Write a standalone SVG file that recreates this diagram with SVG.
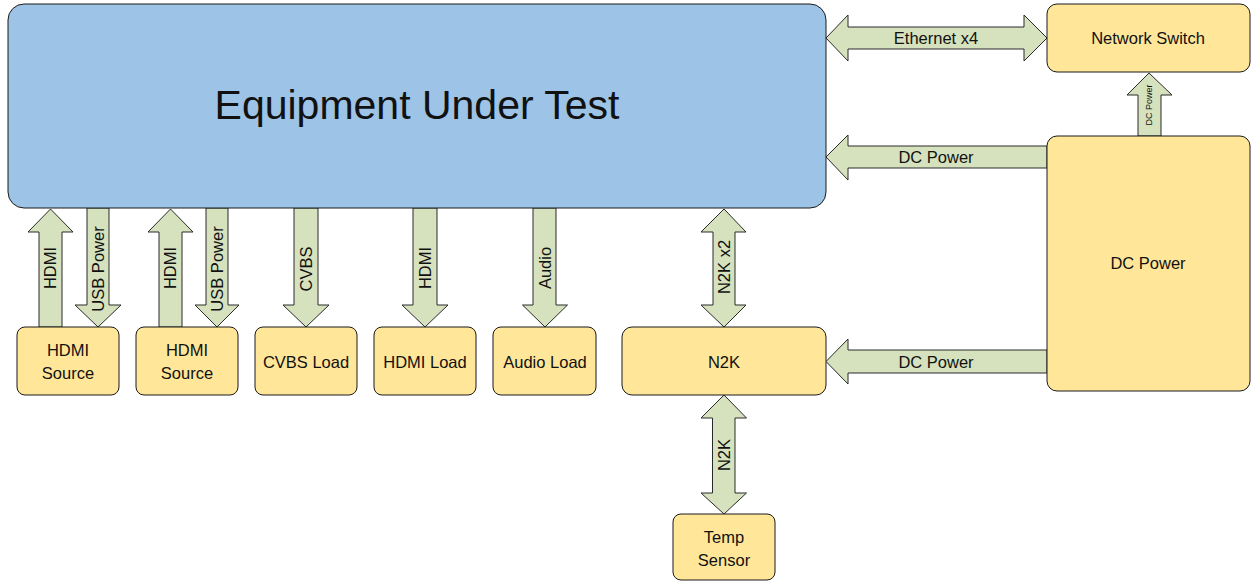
<svg xmlns="http://www.w3.org/2000/svg" width="1251" height="582" viewBox="0 0 1251 582">
<style>
.eut{fill:#9DC3E6;stroke:#1a1a1a;stroke-width:1}
.box{fill:#FFE699;stroke:#1a1a1a;stroke-width:1}
.arr{fill:#D6E2BD;stroke:#2a2a2a;stroke-width:1;stroke-linejoin:miter}
text{font-family:"Liberation Sans",Arial,sans-serif;fill:#111;text-anchor:middle;dominant-baseline:central}
.t{font-size:16.5px}
.big{font-size:41px}
.sm{font-size:9px}
</style>
<rect width="1251" height="582" fill="#fff"/>
<g id="connectors">
<path class="arr" d="M50.5,209 L73,232 L62,232 L62,327 L39,327 L39,232 L28,232 Z"/>
<path class="arr" d="M87,208 L109,208 L109,305 L121,305 L98,327 L75,305 L87,305 Z"/>
<path class="arr" d="M170.5,209 L193,232 L182,232 L182,327 L159,327 L159,232 L148,232 Z"/>
<path class="arr" d="M206,208 L228,208 L228,305 L239,305 L217,327 L195,305 L206,305 Z"/>
<path class="arr" d="M294,208 L318,208 L318,305 L329,305 L306,327 L283,305 L294,305 Z"/>
<path class="arr" d="M413,208 L437,208 L437,305 L448,305 L425,327 L402,305 L413,305 Z"/>
<path class="arr" d="M533,208 L556,208 L556,305 L567.5,305 L545,327 L522.5,305 L533,305 Z"/>
<path class="arr" d="M724,209 L746,232 L735,232 L735,305 L746,305 L724,327 L701,305 L713,305 L713,232 L701,232 Z"/>
<path class="arr" d="M724,395 L746.5,418 L735,418 L735,493 L746.5,493 L724,514 L701,493 L712.5,493 L712.5,418 L701,418 Z"/>
<path class="arr" d="M826,38 L848,15 L848,27 L1024,27 L1024,15 L1047,38 L1024,61 L1024,49 L848,49 L848,61 Z"/>
<path class="arr" d="M826,157 L848,135 L848,146 L1047,146 L1047,168 L848,168 L848,180 Z"/>
<path class="arr" d="M826,361.5 L848,339 L848,350 L1047,350 L1047,373 L848,373 L848,384 Z"/>
<path class="arr" d="M1149,73 L1172,95 L1161,95 L1161,136 L1138,136 L1138,95 L1127,95 Z"/>
<text class="t" transform="translate(50,268) rotate(-90)">HDMI</text>
<text class="t" transform="translate(98,269) rotate(-90)">USB Power</text>
<text class="t" transform="translate(170,268) rotate(-90)">HDMI</text>
<text class="t" transform="translate(217,269) rotate(-90)">USB Power</text>
<text class="t" transform="translate(306,269) rotate(-90)">CVBS</text>
<text class="t" transform="translate(425,268) rotate(-90)">HDMI</text>
<text class="t" transform="translate(545,268) rotate(-90)">Audio</text>
<text class="t" transform="translate(724,267) rotate(-90)">N2K x2</text>
<text class="t" transform="translate(724,455) rotate(-90)">N2K</text>
<text class="t" x="936" y="38">Ethernet x4</text>
<text class="t" x="936" y="157">DC Power</text>
<text class="t" x="936" y="362">DC Power</text>
<text class="sm" transform="translate(1149,105) rotate(-90)">DC Power</text>
</g>
<g id="eut"><rect class="eut" x="8" y="4" width="818" height="204" rx="16"/><text class="big" x="417" y="105">Equipment Under Test</text></g>
<g id="network-switch"><rect class="box" x="1047" y="4" width="203" height="68" rx="10"/><text class="t" x="1148" y="38">Network Switch</text></g>
<g id="dc-power"><rect class="box" x="1047" y="136" width="203" height="255" rx="10"/><text class="t" x="1148" y="263">DC Power</text></g>
<g id="hdmi-source-1"><rect class="box" x="17" y="327" width="102" height="68" rx="8"/><text class="t" x="68" y="350">HDMI</text><text class="t" x="68" y="373">Source</text></g>
<g id="hdmi-source-2"><rect class="box" x="136" y="327" width="102" height="68" rx="8"/><text class="t" x="187" y="350">HDMI</text><text class="t" x="187" y="373">Source</text></g>
<g id="cvbs-load"><rect class="box" x="255" y="327" width="102" height="68" rx="8"/><text class="t" x="306" y="362">CVBS Load</text></g>
<g id="hdmi-load"><rect class="box" x="374" y="327" width="102" height="68" rx="8"/><text class="t" x="425" y="362">HDMI Load</text></g>
<g id="audio-load"><rect class="box" x="493" y="327" width="103" height="68" rx="8"/><text class="t" x="545" y="362">Audio Load</text></g>
<g id="n2k"><rect class="box" x="622" y="327" width="204" height="68" rx="10"/><text class="t" x="724" y="362">N2K</text></g>
<g id="temp-sensor"><rect class="box" x="673" y="514" width="102" height="66" rx="8"/><text class="t" x="724" y="537">Temp</text><text class="t" x="724" y="560">Sensor</text></g>
</svg>
